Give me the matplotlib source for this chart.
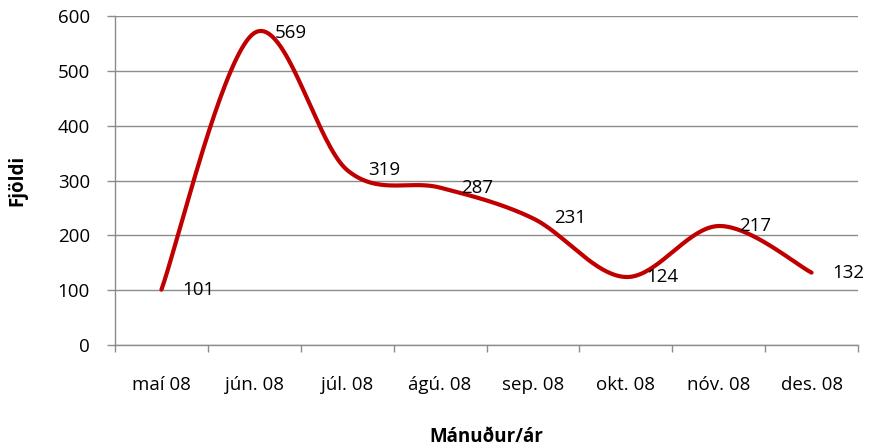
import numpy as np
import matplotlib.pyplot as plt

plt.rcParams['font.family'] = ['Open Sans', 'DejaVu Sans']

# Gögn
categories = ["maí 08", "jún. 08", "júl. 08", "ágú. 08", "sep. 08", "okt. 08", "nóv. 08", "des. 08"]
values = [101, 569, 319, 287, 231, 124, 217, 132]
y_ticks = [0, 100, 200, 300, 400, 500, 600]


def smooth_curve(x, y, n=40):
    # Excel-style smoothed line (Catmull-Rom via cubic Bezier)
    x = np.asarray(x, float)
    y = np.asarray(y, float)
    px = np.concatenate([[x[0]], x, [x[-1]]])
    py = np.concatenate([[y[0]], y, [y[-1]]])
    xs, ys = [], []
    t = np.linspace(0, 1, n)
    for i in range(1, len(px) - 2):
        p0 = np.array([px[i], py[i]])
        p3 = np.array([px[i + 1], py[i + 1]])
        c1 = p0 + (np.array([px[i + 1], py[i + 1]]) - np.array([px[i - 1], py[i - 1]])) / 6
        c2 = p3 - (np.array([px[i + 2], py[i + 2]]) - np.array([px[i], py[i]])) / 6
        b = ((1 - t) ** 3)[:, None] * p0 + (3 * (1 - t) ** 2 * t)[:, None] * c1 \
            + (3 * (1 - t) * t ** 2)[:, None] * c2 + (t ** 3)[:, None] * p3
        xs.extend(b[:, 0])
        ys.extend(b[:, 1])
    return xs, ys


fig = plt.figure(figsize=(8.71, 4.46), dpi=100)
ax = fig.add_axes([115 / 871, 1 - 345 / 446, (858 - 115) / 871, (345 - 16) / 446])

fs = 13.5
x = np.arange(len(categories))
sx, sy = smooth_curve(x, values)
ax.plot(sx, sy, color='#C00000', lw=3, solid_capstyle='round', zorder=3)

for xi, v in zip(x, values):
    ax.annotate(str(v), (xi, v), xytext=(15, 0), textcoords='offset points',
                ha='left', va='center', fontsize=fs)

ax.set_xlim(-0.5, len(categories) - 0.5)
ax.set_ylim(0, 600)
ax.set_yticks(y_ticks)
ax.set_yticklabels([str(t) for t in y_ticks], fontsize=fs)
ax.yaxis.grid(True, color='#8c8c8c', lw=1)
ax.set_axisbelow(True)

ax.set_xticks(x)
ax.set_xticklabels(categories, fontsize=fs)
ax.tick_params(axis='x', which='major', length=0, pad=22)
ax.set_xticks(np.arange(-0.5, len(categories)), minor=True)
ax.tick_params(axis='x', which='minor', length=5, color='#8c8c8c', width=1)
ax.tick_params(axis='y', length=6, color='#8c8c8c', width=1, pad=12)

for s in ['top', 'right']:
    ax.spines[s].set_visible(False)
for s in ['left', 'bottom']:
    ax.spines[s].set_color('#8c8c8c')
    ax.spines[s].set_linewidth(1)

ax.set_xlabel('Mánuður/ár', fontsize=fs, fontweight='bold', labelpad=24)
ax.set_ylabel('Fjöldi', fontsize=fs, fontweight='bold', labelpad=22)

fig.savefig('out.png', dpi=100)
